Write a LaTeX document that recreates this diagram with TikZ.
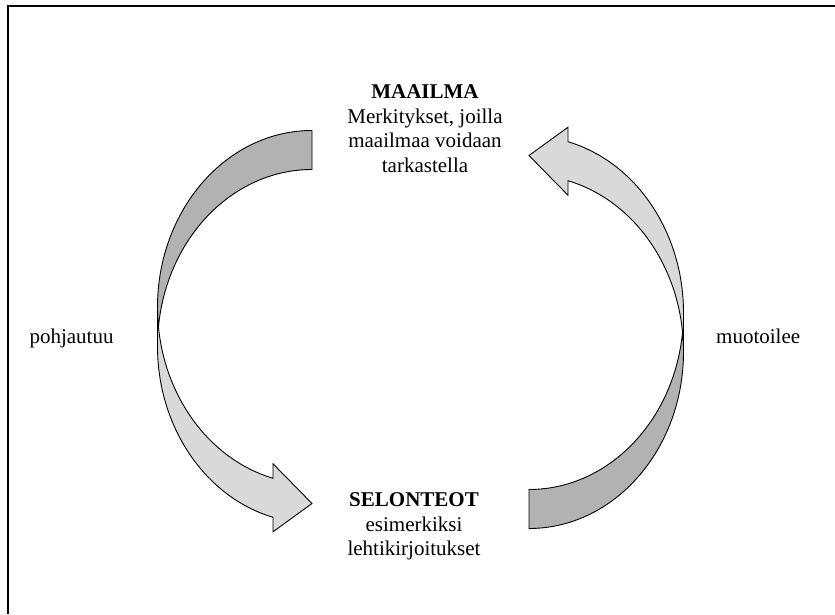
\documentclass[tikz,border=0pt]{standalone}
\usepackage{fontspec}
\setmainfont{Liberation Serif}
\definecolor{arrlight}{HTML}{D9D9D9}
\definecolor{arrdark}{HTML}{B2B2B2}
\tikzset{
  lbl/.style={inner sep=0pt, align=center, font=\fontsize{21}{24.5}\selectfont},
  arrline/.style={draw=black, line width=0.9pt, line join=miter},
  curvedarr/.pic={
    \fill[arrlight] (157.5,306.75) arc[start angle=180,end angle=255.38,x radius=154.5,y radius=176.75]
      -- (273,150.22) -- (312,110.5) -- (273,82.22) -- (273,96.72)
      arc[start angle=255.38,end angle=180,x radius=154.5,y radius=176.75] -- cycle;
    \fill[arrdark] (312,444.5) arc[start angle=90,end angle=173.666,x radius=154.5,y radius=176.75]
      arc[start angle=186.334,end angle=90,x radius=154.5,y radius=176.75] -- cycle;
    \draw[arrline] (157.5,306.75) arc[start angle=180,end angle=255.38,x radius=154.5,y radius=176.75]
      -- (273,150.22) -- (312,110.5) -- (273,82.22) -- (273,96.72)
      arc[start angle=255.38,end angle=180,x radius=154.5,y radius=176.75] -- (157.5,306.75)
      arc[start angle=180,end angle=90,x radius=154.5,y radius=176.75] -- (312,444.5)
      arc[start angle=90,end angle=173.666,x radius=154.5,y radius=176.75];
  }
}
\begin{document}
\begin{tikzpicture}[x=1pt,y=1pt]
\useasboundingbox (0,0) rectangle (835,614);
\fill[white] (0,0) rectangle (835,614);
\draw[line width=2pt] (8,0) -- (8,608) -- (835,608);
\pic (leftarr) at (0,0) {curvedarr};
\pic[rotate=180] (rightarr) at (841,569) {curvedarr};
\node[lbl, anchor=base] (maailma) at (425,441.7)
  {\textbf{MAAILMA}\\Merkitykset, joilla\\maailmaa voidaan\\tarkastella};
\node[lbl, anchor=base] (selonteot) at (414,58.3)
  {\textbf{SELONTEOT}\\esimerkiksi\\lehtikirjoitukset};
\node[lbl, anchor=base west] (pohjautuu) at (29.3,270.5) {pohjautuu};
\node[lbl, anchor=base west] (muotoilee) at (716,270.5) {muotoilee};
\end{tikzpicture}
\end{document}
